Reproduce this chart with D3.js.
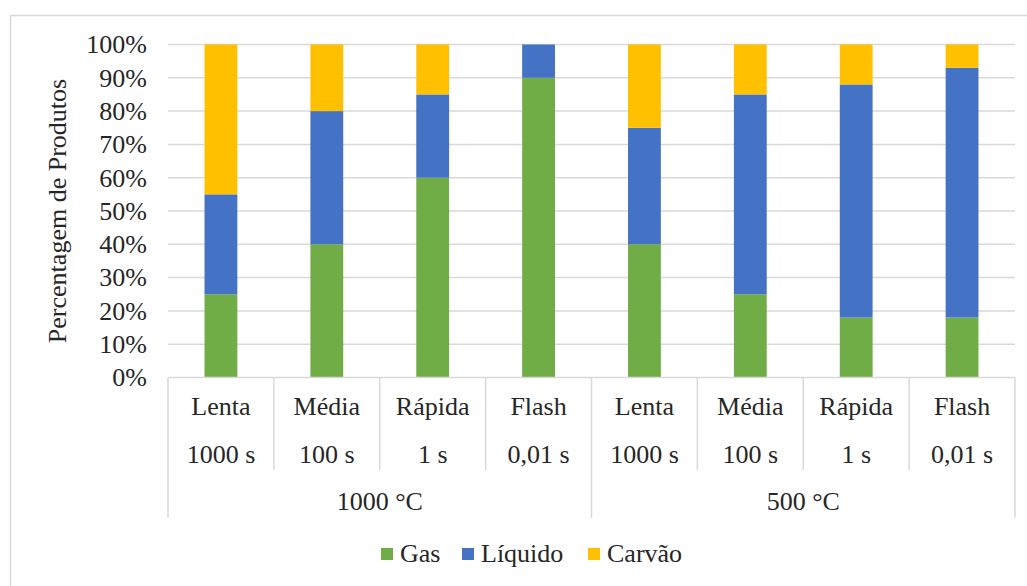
<!DOCTYPE html>
<html>
<head>
<meta charset="utf-8">
<script src="https://cdn.jsdelivr.net/npm/d3@7"></script>
<style>
  html, body { margin: 0; padding: 0; background: #fff; }
  svg { display: block; }
  svg text { font-family: "Liberation Serif", "DejaVu Serif", serif; }
</style>
</head>
<body>
<svg id="chart" width="1027" height="586"></svg>
<script>
// Product distribution by pyrolysis regime
const groups = ["1000 °C", "500 °C"];
const regimes = ["Lenta", "Média", "Rápida", "Flash"];
const times = ["1000 s", "100 s", "1 s", "0,01 s"];
const seriesNames = ["Gas", "Líquido", "Carvão"];
const seriesColors = ["#70AD47", "#4472C4", "#FFC000"];
const gas     = [25, 40, 60, 90, 40, 25, 18, 18];
const liquido = [30, 40, 25, 10, 35, 60, 70, 75];
const carvao  = [45, 20, 15,  0, 25, 15, 12,  7];
const yTicks = [0, 10, 20, 30, 40, 50, 60, 70, 80, 90, 100];

const FONT = "'Liberation Serif', 'DejaVu Serif', serif";
const FS = 26;
const TEXT = "#262626";

const rows = [];
groups.forEach((g, gi) => regimes.forEach((r, ri) => {
  const i = gi * regimes.length + ri;
  rows.push({ id: i, group: g, regime: r, time: times[ri],
              "Gas": gas[i], "Líquido": liquido[i], "Carvão": carvao[i] });
}));

const svg = d3.select("#chart");
const plotLeft = 168, plotRight = 1015, plotTop = 44.5, plotBottom = 377.5;

// outer chart frame
svg.append("rect").attr("x", 10.5).attr("y", 15.5).attr("width", 1030).attr("height", 600)
  .attr("fill", "none").attr("stroke", "#d9d9d9").attr("stroke-width", 1.5);

const x = d3.scaleBand().domain(rows.map(d => d.id)).range([plotLeft, plotRight]).padding(0);
const y = d3.scaleLinear().domain([0, 100]).range([plotBottom, plotTop]);
const barW = x.bandwidth() * 0.31;

// gridlines
svg.append("g").selectAll("line").data(yTicks.filter(t => t > 0)).join("line")
  .attr("x1", plotLeft).attr("x2", plotRight)
  .attr("y1", d => y(d)).attr("y2", d => y(d))
  .attr("stroke", "#d9d9d9").attr("stroke-width", 1.5);

// y axis labels
const yAxis = d3.axisLeft(y).tickValues(yTicks).tickFormat(d => d + "%").tickSize(0).tickPadding(0);
const yg = svg.append("g").attr("transform", "translate(147,0)").call(yAxis)
  .attr("font-family", FONT).attr("font-size", FS);
yg.select(".domain").remove();
yg.selectAll("text").attr("fill", TEXT);

svg.append("text")
  .attr("transform", `translate(66,${(plotTop + plotBottom) / 2}) rotate(-90)`)
  .attr("text-anchor", "middle")
  .attr("font-family", FONT).attr("font-size", FS).attr("fill", TEXT)
  .text("Percentagem de Produtos");

// stacked bars
const stack = d3.stack().keys(seriesNames);
const layers = stack(rows);
svg.append("g").selectAll("g").data(layers).join("g")
  .attr("fill", (d, i) => seriesColors[i])
  .selectAll("rect").data(d => d).join("rect")
  .attr("x", d => x(d.data.id) + (x.bandwidth() - barW) / 2)
  .attr("width", barW)
  .attr("y", d => y(d[1]))
  .attr("height", d => y(d[0]) - y(d[1]));

// category axis line
const axis = svg.append("g").attr("stroke", "#d9d9d9").attr("stroke-width", 1.5);
axis.append("line").attr("x1", plotLeft).attr("x2", plotRight).attr("y1", plotBottom).attr("y2", plotBottom);

// inner separators between regimes
const innerBottom = 470, groupBottom = 518;
rows.forEach((d, i) => {
  if (i % regimes.length !== 0) {
    axis.append("line").attr("x1", x(d.id)).attr("x2", x(d.id))
      .attr("y1", plotBottom).attr("y2", innerBottom);
  }
});
// group separators
const groupEdges = [plotLeft];
groups.forEach((g, gi) => {
  const last = rows[(gi + 1) * regimes.length - 1];
  groupEdges.push(x(last.id) + x.bandwidth());
});
groupEdges.forEach(gx => {
  axis.append("line").attr("x1", gx).attr("x2", gx).attr("y1", plotBottom).attr("y2", groupBottom);
});

// category labels
const labels = svg.append("g").attr("font-family", FONT).attr("font-size", FS)
  .attr("fill", TEXT).attr("text-anchor", "middle");
rows.forEach(d => {
  const cx = x(d.id) + x.bandwidth() / 2;
  labels.append("text").attr("x", cx).attr("y", 415).text(d.regime);
  labels.append("text").attr("x", cx).attr("y", 463).text(d.time);
});
groups.forEach((g, gi) => {
  const gx = (groupEdges[gi] + groupEdges[gi + 1]) / 2;
  labels.append("text").attr("x", gx).attr("y", 510).text(g);
});

// legend
const legendX = [381, 462, 588];
const legend = svg.append("g").attr("font-family", FONT).attr("font-size", FS).attr("fill", TEXT);
seriesNames.forEach((s, i) => {
  legend.append("rect").attr("x", legendX[i]).attr("y", 548).attr("width", 12).attr("height", 12)
    .attr("fill", seriesColors[i]);
  legend.append("text").attr("x", legendX[i] + 19).attr("y", 562).text(s);
});
</script>
</body>
</html>
